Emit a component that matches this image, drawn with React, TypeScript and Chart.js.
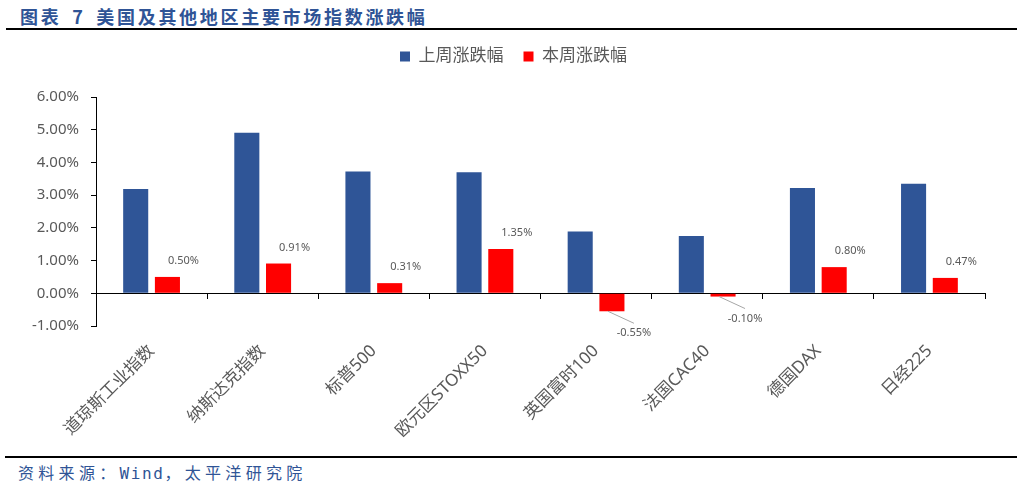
import React, { useEffect, useRef } from "react";
import { Chart, registerables } from "chart.js";

Chart.register(...registerables);

// Index names on the category axis
const categories = [
  "道琼斯工业指数",
  "纳斯达克指数",
  "标普500",
  "欧元区STOXX50",
  "英国富时100",
  "法国CAC40",
  "德国DAX",
  "日经225",
];

// Weekly change, in percent
const lastWeekChange = [3.19, 4.91, 3.72, 3.7, 1.89, 1.75, 3.22, 3.35];
const thisWeekChange = [0.5, 0.91, 0.31, 1.35, -0.55, -0.1, 0.8, 0.47];

const seriesNames = ["上周涨跌幅", "本周涨跌幅"];

// Value axis range and step, in percent
const yMin = -1;
const yMax = 6;
const yStep = 1;

const titleText = "图表 7 美国及其他地区主要市场指数涨跌幅";
const sourceParts = ["资料来源：", "Wind", "，太平洋研究院"];

const LABEL_GREY = "#595959";
const TITLE_BLUE = "#2F5496";

Chart.defaults.font.family = "'Noto Sans', 'Noto Sans CJK SC', sans-serif";

// Adds extra room between the legend row and the plot, and centres the
// legend row on the page rather than on the padded layout box.
const legendPlacement = {
  id: "legendPlacement",
  beforeInit(chart: any) {
    const legend = chart.legend;
    if (!legend) return;
    const fit = legend.fit;
    legend.fit = function () {
      fit.call(this);
      this.height += 22;
    };
  },
  afterLayout(chart: any) {
    const legend = chart.legend;
    if (!legend) return;
    legend.left += 21;
    legend.right += 21;
  },
};

// Value labels for the current-week series; negatives get a leader line.
const barValueLabels = {
  id: "barValueLabels",
  afterDatasetsDraw(chart: any) {
    const { ctx } = chart;
    const meta = chart.getDatasetMeta(1);
    const values = chart.data.datasets[1].data as number[];
    ctx.save();
    ctx.font = "11px 'Noto Sans', sans-serif";
    ctx.fillStyle = LABEL_GREY;
    ctx.textAlign = "center";
    ctx.textBaseline = "middle";
    meta.data.forEach((bar: any, i: number) => {
      const v = values[i];
      const { x, y } = bar.getProps(["x", "y"], true);
      const text = v.toFixed(2) + "%";
      if (v >= 0) {
        ctx.fillText(text, x + 16, y - 16);
      } else {
        const lx = x + 22;
        const ly = y + 22;
        ctx.strokeStyle = "#A6A6A6";
        ctx.lineWidth = 1;
        ctx.beginPath();
        ctx.moveTo(x - 4, y);
        ctx.lineTo(lx, ly - 10);
        ctx.stroke();
        ctx.fillText(text, lx, ly);
      }
    });
    ctx.restore();
  },
};

function BarChart() {
  const ref = useRef<HTMLCanvasElement>(null);

  useEffect(() => {
    if (!ref.current) return;
    const chart = new Chart(ref.current, {
      type: "bar",
      data: {
        labels: categories,
        datasets: [
          {
            label: seriesNames[0],
            data: lastWeekChange,
            backgroundColor: "#2F5597",
          },
          {
            label: seriesNames[1],
            data: thisWeekChange,
            backgroundColor: "#FF0000",
          },
        ],
      },
      options: {
        responsive: false,
        animation: false,
        layout: { padding: { top: 0, right: 38, left: 0, bottom: 0 } },
        datasets: {
          bar: { categoryPercentage: 0.571, barPercentage: 0.79 },
        },
        plugins: {
          legend: {
            position: "top",
            labels: {
              boxWidth: 10,
              boxHeight: 10,
              padding: 20,
              color: LABEL_GREY,
              font: { size: 17 },
            },
          },
          tooltip: { enabled: false },
        },
        scales: {
          x: {
            type: "category",
            position: "bottom",
            offset: true,
            grid: { display: false, drawTicks: false },
            border: { display: false },
            ticks: {
              autoSkip: false,
              minRotation: 45,
              maxRotation: 45,
              color: LABEL_GREY,
              font: { size: 17 },
              padding: 15,
            },
            afterFit: (s: any) => {
              s.height = 124;
            },
          },
          zeroLine: {
            type: "category",
            axis: "x",
            labels: categories,
            position: { y: 0 },
            offset: true,
            grid: {
              offset: true,
              drawOnChartArea: false,
              drawTicks: true,
              tickLength: 5,
              color: "#000",
            },
            border: { color: "#000", width: 1 },
            ticks: { display: false },
          },
          y: {
            min: yMin,
            max: yMax,
            ticks: {
              stepSize: yStep,
              callback: (v: any) => Number(v).toFixed(2) + "%",
              color: LABEL_GREY,
              font: { size: 15 },
              padding: 12,
            },
            grid: {
              drawOnChartArea: false,
              drawTicks: true,
              tickLength: 5,
              color: "#000",
            },
            border: { color: "#000", width: 1 },
            afterFit: (s: any) => {
              s.width = 96;
            },
          },
        },
      } as any,
      plugins: [legendPlacement, barValueLabels],
    });
    return () => chart.destroy();
  }, []);

  return (
    <canvas
      ref={ref}
      width={1023}
      height={422}
      style={{ position: "absolute", left: 0, top: 28, display: "block" }}
    />
  );
}

export default function App() {
  return (
    <div
      style={{
        position: "absolute",
        left: 0,
        top: 0,
        width: 1023,
        height: 488,
        background: "#fff",
        overflow: "hidden",
      }}
    >
      <div
        style={{
          position: "absolute",
          left: 20,
          top: 5,
          lineHeight: "22px",
          fontSize: 18,
          fontWeight: 700,
          letterSpacing: 2.7,
          wordSpacing: 4,
          whiteSpace: "pre",
          color: TITLE_BLUE,
          fontFamily: "'Noto Sans CJK SC', sans-serif",
        }}
      >
        {titleText}
      </div>
      <div
        style={{
          position: "absolute",
          left: 6,
          top: 28,
          width: 1011,
          height: 2,
          background: "#000",
        }}
      />
      <BarChart />
      <div
        style={{
          position: "absolute",
          left: 5,
          top: 456,
          width: 1012,
          height: 2,
          background: "#000",
        }}
      />
      <div
        style={{
          position: "absolute",
          left: 18,
          top: 461,
          lineHeight: "22px",
          fontSize: 16,
          whiteSpace: "pre",
          color: TITLE_BLUE,
          fontFamily: "'Noto Sans CJK SC', sans-serif",
        }}
      >
        <span style={{ letterSpacing: 4.3 }}>{sourceParts[0]}</span>
        <span style={{ letterSpacing: 1.6, fontFamily: "'DejaVu Sans Mono', monospace" }}>
          {sourceParts[1]}
        </span>
        <span style={{ letterSpacing: 4.3 }}>{sourceParts[2]}</span>
      </div>
    </div>
  );
}
